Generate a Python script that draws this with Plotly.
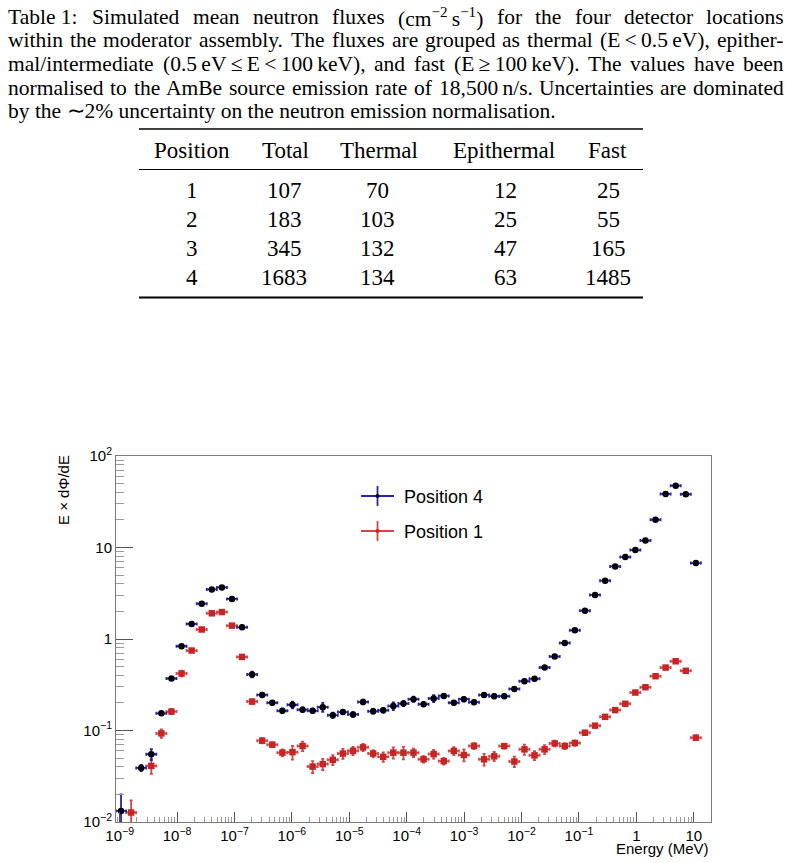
import re
import numpy as np
import plotly.graph_objects as go

# ---------------- data ----------------
# Histogram binning (log-spaced, energies in MeV)
log_e_min = -9.064
log_e_max = float(np.log10(20.0))
n_bins = 59

# E x dPhi/dE per bin (None = empty bin)
position4 = [0.0132, None, 0.039, 0.055, 0.154, 0.37, 0.833, 1.46, 2.43, 3.48,
             3.66, 2.74, 1.34, 0.41, 0.245, 0.201, 0.164, 0.191, 0.169, 0.164,
             0.18, 0.147, 0.159, 0.150, 0.205, 0.162, 0.166, 0.185, 0.197, 0.22,
             0.194, 0.224, 0.239, 0.201, 0.22, 0.204, 0.245, 0.237, 0.237, 0.285,
             0.346, 0.367, 0.488, 0.643, 0.905, 1.245, 2.04, 3.03, 4.34, 6.21,
             7.85, 9.37, 11.9, 20.1, 38.5, 47.4, 38.2, 6.76]
position4_err = [0.0068, 0, 0.003, 0.0075, 0.007, 0.015, 0.03, 0.05, 0.08, 0.1,
                 0.12, 0.09, 0.05, 0.03, 0.012, 0.01, 0.009, 0.016, 0.01, 0.009,
                 0.02, 0.01, 0.008, 0.009, 0.012, 0.009, 0.009, 0.018, 0.012, 0.015,
                 0.009, 0.02, 0.012, 0.009, 0.012, 0.01, 0.01, 0.012, 0.01, 0.014,
                 0.015, 0.014, 0.018, 0.02, 0.025, 0.035, 0.05, 0.07, 0.09, 0.12,
                 0.15, 0.17, 0.22, 0.35, 0.6, 0.8, 0.6, 0.14]
position1 = [None, 0.0127, None, 0.041, 0.093, 0.161, 0.42, 0.748, 1.27, 1.91,
             1.97, 1.40, 0.637, 0.207, 0.0774, 0.070, 0.0573, 0.058, 0.0676, 0.0403,
             0.043, 0.0478, 0.056, 0.060, 0.0654, 0.056, 0.0515, 0.0573, 0.0573, 0.0573,
             0.0486, 0.0552, 0.0463, 0.0598, 0.054, 0.0678, 0.0484, 0.0522, 0.0676, 0.0458,
             0.0622, 0.0535, 0.0622, 0.0723, 0.0676, 0.073, 0.0946, 0.113, 0.141, 0.167,
             0.196, 0.260, 0.297, 0.392, 0.487, 0.571, 0.449, 0.0834]
position1_err = [0, 0.0045, 0, 0.0075, 0.01, 0.01, 0.03, 0.03, 0.04, 0.05,
                 0.05, 0.04, 0.02, 0.012, 0.005, 0.004, 0.005, 0.01, 0.008, 0.006,
                 0.006, 0.006, 0.007, 0.006, 0.006, 0.005, 0.006, 0.008, 0.009, 0.006,
                 0.004, 0.006, 0.004, 0.006, 0.008, 0.005, 0.007, 0.006, 0.004, 0.006,
                 0.008, 0.006, 0.007, 0.005, 0.005, 0.005, 0.005, 0.005, 0.006, 0.006,
                 0.007, 0.007, 0.008, 0.01, 0.01, 0.012, 0.01, 0.005]

# Table
table_header = ["Position", "Total", "Thermal", "Epithermal", "Fast"]
tab_position = ["1", "2", "3", "4"]
tab_total = ["107", "183", "345", "1683"]
tab_thermal = ["70", "103", "132", "134"]
tab_epithermal = ["12", "25", "47", "63"]
tab_fast = ["25", "55", "165", "1485"]

TS = "\u2009"  # thin space (kept inside a word)
caption_lines = [
    "Table" + "\u00a0" + "1: Simulated mean neutron fluxes (cm<sup>\u22122</sup>" + TS
    + "s<sup>\u22121</sup>) for the four detector locations",
    "within the moderator assembly. The fluxes are grouped as thermal (E" + TS + "<" + TS
    + "0.5" + TS + "eV), epither-",
    "mal/intermediate (0.5" + TS + "eV" + TS + "\u2264" + TS + "E" + TS + "<" + TS + "100"
    + TS + "keV), and fast (E" + TS + "\u2265" + TS + "100" + TS + "keV). The values have been",
    "normalised to the AmBe source emission rate of 18,500" + TS
    + "n/s. Uncertainties are dominated",
    "by the \u223c2% uncertainty on the neutron emission normalisation.",
]
caption_justified = [True, True, True, True, False]

x_tick_vals = [1e-9, 1e-8, 1e-7, 1e-6, 1e-5, 1e-4, 1e-3, 1e-2, 1e-1, 1, 10]
x_tick_text = ["10<sup>\u22129</sup>", "10<sup>\u22128</sup>", "10<sup>\u22127</sup>",
               "10<sup>\u22126</sup>", "10<sup>\u22125</sup>", "10<sup>\u22124</sup>",
               "10<sup>\u22123</sup>", "10<sup>\u22122</sup>", "10<sup>\u22121</sup>",
               "1", "10"]
y_tick_vals = [1e-2, 1e-1, 1, 10, 100]
y_tick_text = ["10<sup>\u22122</sup>", "10<sup>\u22121</sup>", "1", "10", "10<sup>2</sup>"]

# ---------------- layout helpers ----------------
W, H = 789, 863
ML, MR, MT, MB = 116, 78, 456, 41
PW = W - ML - MR
PH = H - MT - MB


def px(x):
    return (x - ML) / PW


def py(y):
    return (H - MB - y) / PH


# approximate Times/Liberation Serif advance widths (1/1000 em)
_TW = {' ': 250, '\u00a0': 250, '\u2009': 200, 'a': 444, 'b': 500, 'c': 444, 'd': 500,
       'e': 444, 'f': 333, 'g': 500, 'h': 500, 'i': 278, 'j': 278, 'k': 500, 'l': 278,
       'm': 778, 'n': 500, 'o': 500, 'p': 500, 'q': 500, 'r': 333, 's': 389, 't': 278,
       'u': 500, 'v': 500, 'w': 722, 'x': 500, 'y': 500, 'z': 444, 'A': 722, 'B': 667,
       'C': 667, 'D': 722, 'E': 611, 'F': 556, 'G': 722, 'H': 722, 'I': 333, 'T': 611,
       'U': 722, 'M': 889, 'N': 722, 'S': 556, 'V': 722, '.': 250, ',': 250, ':': 278,
       '(': 333, ')': 333, '/': 278, '-': 333, '%': 833, '<': 564, '\u2264': 549,
       '\u2265': 549, '\u223c': 541, '\u2212': 564}


def text_width(s, size):
    total = 0.0
    for part, sup in re.findall(r"<sup>(.*?)</sup>|([^<]+)", s) and \
            [(m.group(1), m.group(1) is not None) if m.group(1) is not None else (m.group(2), False)
             for m in re.finditer(r"<sup>(.*?)</sup>|([^<]+|<)", s)]:
        f = 0.7 if sup else 1.0
        total += sum(_TW.get(ch, 500) for ch in part) * f
    return total * size / 1000.0


edges = np.logspace(log_e_min, log_e_max, n_bins + 1)
centers = np.sqrt(edges[:-1] * edges[1:])[:len(position4)]
x_plus = edges[1:len(position4) + 1] - centers
x_minus = centers - edges[:len(position4)]

BLUE = "#2424b4"
RED_BAR = "#d24848"
RED_MK = "#c42626"

fig = go.Figure()
fig.add_trace(go.Scatter(
    x=centers, y=position1, mode="markers", showlegend=False,
    marker=dict(symbol="square", size=6.5, color=RED_MK),
    error_x=dict(type="data", array=x_plus, arrayminus=x_minus, color=RED_BAR,
                 thickness=1.8, width=1.5),
    error_y=dict(type="data", array=position1_err, color=RED_BAR, thickness=1.8, width=1.5),
))
fig.add_trace(go.Scatter(
    x=centers, y=position4, mode="markers", showlegend=False,
    marker=dict(symbol="circle", size=6.5, color="black"),
    error_x=dict(type="data", array=x_plus, arrayminus=x_minus, color=BLUE,
                 thickness=1.8, width=1.5),
    error_y=dict(type="data", array=position4_err, color=BLUE, thickness=1.8, width=1.5),
))

# minor ticks (axis decoration)
x_minor = [m * 10.0 ** k for k in range(-10, 2) for m in range(2, 10)
           if 10 ** log_e_min < m * 10.0 ** k < 10 ** log_e_max]
y_minor = [m * 10.0 ** k for k in range(-2, 2) for m in range(2, 10)]

axis_font = dict(family="Liberation Sans, Arial, sans-serif", size=15, color="black")
fig.update_xaxes(
    type="log", range=[log_e_min, log_e_max], showgrid=False, zeroline=False,
    showline=True, mirror=True, linecolor="#7a7a7a", linewidth=1,
    ticks="inside", ticklen=10, tickcolor="#555", tickwidth=1,
    tickvals=x_tick_vals, ticktext=x_tick_text, tickfont=axis_font,
    minor=dict(tickvals=x_minor, ticks="inside", ticklen=5, tickcolor="#999", tickwidth=1),
)
fig.update_yaxes(
    type="log", range=[-2, 2], showgrid=False, zeroline=False,
    showline=True, mirror=True, linecolor="#7a7a7a", linewidth=1,
    ticks="inside", ticklen=17, tickcolor="#555", tickwidth=1,
    tickvals=y_tick_vals, ticktext=y_tick_text, tickfont=axis_font,
    minor=dict(tickvals=y_minor, ticks="inside", ticklen=8, tickcolor="#999", tickwidth=1),
)

annotations = []
shapes = []
serif = "Liberation Serif, Times New Roman, serif"
sans = "Liberation Sans, Arial, sans-serif"

# caption (justified word by word)
CAP_SIZE = 21.5
X_LEFT, X_RIGHT = 7, 783
line_y = [17, 40.5, 64, 87.5, 111]
for line, just, yy in zip(caption_lines, caption_justified, line_y):
    if just:
        words = line.split(" ")
        widths = [text_width(w, CAP_SIZE) for w in words]
        gap = (X_RIGHT - X_LEFT - sum(widths)) / (len(words) - 1)
        x = X_LEFT
        for w, wd in zip(words, widths):
            annotations.append(dict(x=px(x - 1), y=py(yy), xref="paper", yref="paper", text=w,
                                    showarrow=False, xanchor="left", yanchor="middle",
                                    font=dict(family=serif, size=CAP_SIZE, color="black")))
            x += wd + gap
    else:
        annotations.append(dict(x=px(X_LEFT - 1), y=py(yy), xref="paper", yref="paper",
                                text=line, showarrow=False, xanchor="left", yanchor="middle",
                                font=dict(family=serif, size=CAP_SIZE, color="black")))

# table
TAB_SIZE = 23
head_x = [192, 285, 378.5, 503.5, 607.5]
cell_x = [192, 284, 377, 505, 608]
for h, xx in zip(table_header, head_x):
    annotations.append(dict(x=px(xx), y=py(150), xref="paper", yref="paper", text=h,
                            showarrow=False, xanchor="center", yanchor="middle",
                            font=dict(family=serif, size=TAB_SIZE, color="black")))
row_y = [190, 219.3, 248.5, 277.5]
columns = [tab_position, tab_total, tab_thermal, tab_epithermal, tab_fast]
for col, xx in zip(columns, cell_x):
    for val, yy in zip(col, row_y):
        annotations.append(dict(x=px(xx), y=py(yy), xref="paper", yref="paper", text=val,
                                showarrow=False, xanchor="center", yanchor="middle",
                                font=dict(family=serif, size=TAB_SIZE, color="black")))
for yy, wdt in [(129, 1.5), (169.5, 1), (297.5, 2)]:
    shapes.append(dict(type="line", xref="paper", yref="paper", x0=px(139), x1=px(643),
                       y0=py(yy), y1=py(yy), line=dict(color="black", width=wdt)))

# axis titles
annotations.append(dict(x=px(711), y=py(848), xref="paper", yref="paper", text="Energy (MeV)",
                        showarrow=False, xanchor="right", yanchor="middle",
                        font=dict(family=sans, size=15, color="black")))
annotations.append(dict(x=px(63), y=py(490), xref="paper", yref="paper",
                        text="E \u00d7 d\u03a6/dE", textangle=-90,
                        showarrow=False, xanchor="center", yanchor="middle",
                        font=dict(family=sans, size=15, color="black")))

# legend (drawn)
for label, yy, lc, mc in [("Position 4", 496, BLUE, "black"), ("Position 1", 531, RED_BAR, RED_MK)]:
    shapes.append(dict(type="line", xref="paper", yref="paper", x0=px(361), x1=px(394),
                       y0=py(yy), y1=py(yy), line=dict(color=lc, width=1.8)))
    shapes.append(dict(type="line", xref="paper", yref="paper", x0=px(377.5), x1=px(377.5),
                       y0=py(yy - 10), y1=py(yy + 10), line=dict(color=lc, width=1.8)))
    shapes.append(dict(type="circle", xref="paper", yref="paper", x0=px(375.5), x1=px(379.5),
                       y0=py(yy - 2), y1=py(yy + 2), fillcolor=mc, line=dict(color=mc, width=0)))
    annotations.append(dict(x=px(402), y=py(yy + 1), xref="paper", yref="paper", text=label,
                            showarrow=False, xanchor="left", yanchor="middle",
                            font=dict(family=sans, size=18, color="black")))

fig.update_layout(
    width=W, height=H, margin=dict(l=ML, r=MR, t=MT, b=MB, pad=0),
    paper_bgcolor="white", plot_bgcolor="white", showlegend=False,
    annotations=annotations, shapes=shapes,
)
fig.write_html("out.html")
